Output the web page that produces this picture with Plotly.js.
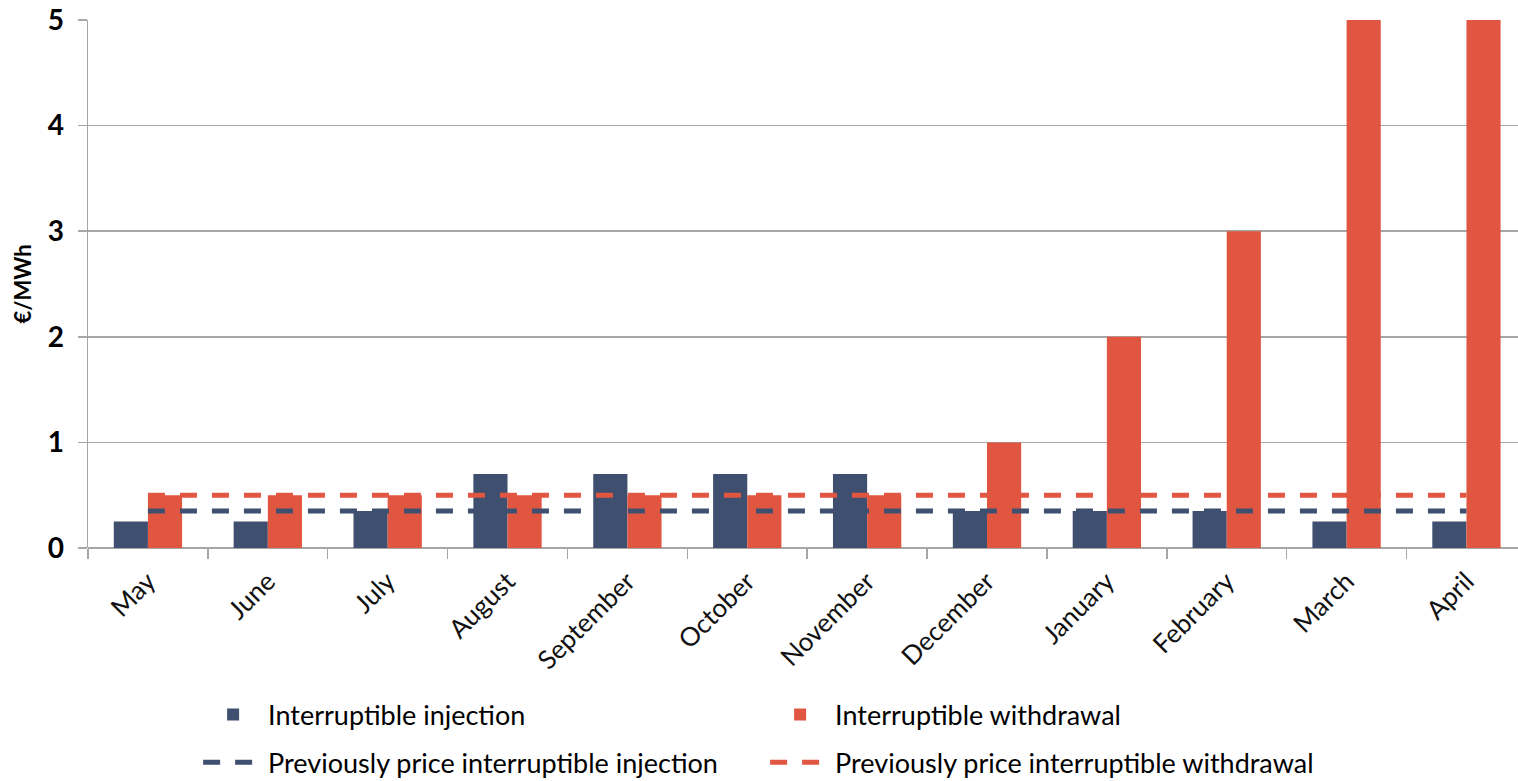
<!DOCTYPE html>
<html>
<head>
<meta charset="utf-8">
<script src="https://cdn.plot.ly/plotly-3.0.1.min.js"></script>
<style>html,body{margin:0;padding:0;background:#fff;}#chart{width:1518px;height:781px;}</style>
</head>
<body>
<div id="chart"></div>
<script>
const months = ["May","June","July","August","September","October","November","December","January","February","March","April"];
const injection = [0.25,0.25,0.35,0.7,0.7,0.7,0.7,0.35,0.35,0.35,0.25,0.25];
const withdrawal = [0.5,0.5,0.5,0.5,0.5,0.5,0.5,1,2,3,5,5];
const prevInjection = [0.35,0.35,0.35,0.35,0.35,0.35,0.35,0.35,0.35,0.35,0.35,0.35];
const prevWithdrawal = [0.5,0.5,0.5,0.5,0.5,0.5,0.5,0.5,0.5,0.5,0.5,0.5];

const blue = "#3f4f6f";
const red = "#e15641";
const FONT = "Lato, 'Open Sans', sans-serif";

const traces = [
  {type:"bar", name:"Interruptible injection", x:months, y:injection, marker:{color:blue}, legend:"legend"},
  {type:"bar", name:"Interruptible withdrawal", x:months, y:withdrawal, marker:{color:red}, legend:"legend"},
  {type:"scatter", mode:"lines", name:"Previously price interruptible injection", x:months, y:prevInjection,
   line:{color:blue, width:5, dash:"17px,15px"}, legend:"legend2"},
  {type:"scatter", mode:"lines", name:"Previously price interruptible withdrawal", x:months, y:prevWithdrawal,
   line:{color:red, width:5, dash:"17px,15px"}, legend:"legend2"}
];

const legendBase = {orientation:"h", xanchor:"left", yanchor:"top",
  font:{size:27, family:FONT, color:"#000"}, entrywidth:492, entrywidthmode:"pixels",
  itemwidth:60, traceorder:"normal", bgcolor:"rgba(0,0,0,0)"};

const layout = {
  width:1518, height:781,
  margin:{l:88, r:0, t:20, b:233, autoexpand:false},
  paper_bgcolor:"#fff", plot_bgcolor:"#fff",
  font:{family:FONT, color:"#000"},
  barmode:"group", bargap:0.43, bargroupgap:0,
  showlegend:true,
  legend:Object.assign({}, legendBase, {x:0.077, y:-0.27}),
  legend2:Object.assign({}, legendBase, {x:0.077, y:-0.36}),
  xaxis:{type:"category", range:[-0.5, 11.43], automargin:false, showgrid:false, showline:false, zeroline:false,
         ticks:"outside", tickson:"boundaries", ticklen:10, tickcolor:"#a6a6a6", tickwidth:1.5,
         tickangle:-45, ticklabelstandoff:12, tickfont:{size:26, family:FONT, color:"#111"}},
  yaxis:{range:[0,5], dtick:1, automargin:false, showgrid:true, gridcolor:"#a6a6a6", gridwidth:1.5,
         showline:true, linecolor:"#a6a6a6", linewidth:1.5, zeroline:true, zerolinecolor:"#a6a6a6", zerolinewidth:1.5,
         ticks:"outside", ticklen:9, tickcolor:"#a6a6a6", tickwidth:1.5, ticklabelstandoff:8,
         tickfont:{size:28, family:FONT, color:"#000", weight:"bold"},
         title:{text:"€/MWh", font:{size:22, family:FONT, color:"#000", weight:"bold"}, standoff:10}}
};

Plotly.newPlot("chart", traces, layout, {staticPlot:true, displayModeBar:false});
</script>
</body>
</html>
